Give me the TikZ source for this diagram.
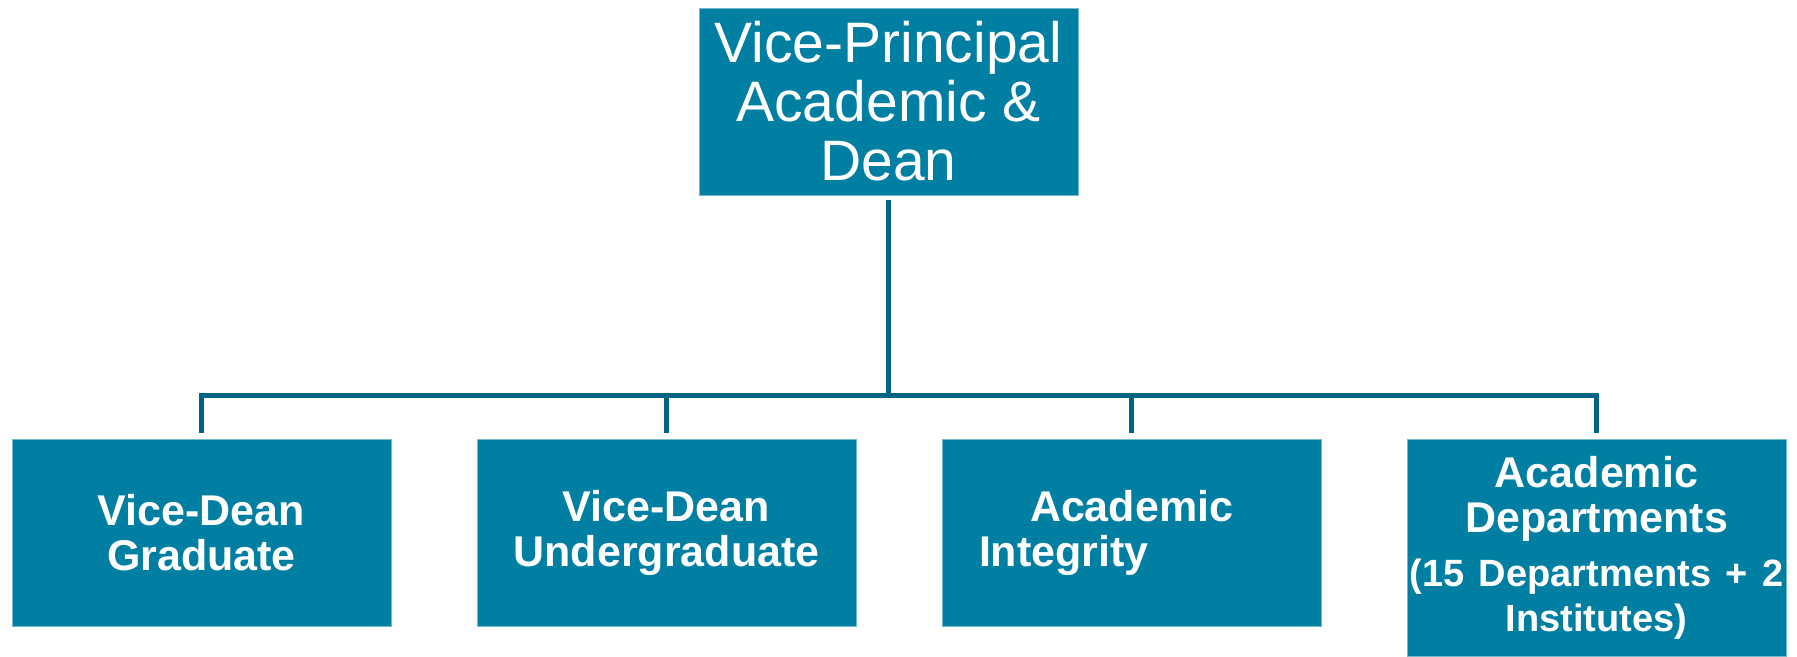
\documentclass[tikz,border=0pt]{standalone}
\usepackage{fontspec}
\setmainfont{Liberation Sans}
\usepackage{xcolor}
\usepackage{tikz}

\definecolor{boxteal}{RGB}{0,127,163}
\definecolor{lineteal}{RGB}{0,101,133}

\tikzset{
	box/.style={fill=boxteal, draw=boxteal!55!white, line width=0.4pt, text=white, inner sep=0pt, minimum width=189.5pt, minimum height=93.5pt, align=center},
	head/.style={box, font=\fontsize{28.5}{29.5}\selectfont},
	unit/.style={box, font=\bfseries\fontsize{21.5}{22.5}\selectfont},
	link/.style={draw=lineteal, line width=2.5pt}
}

\begin{document}
\begin{tikzpicture}[x=0.5pt,y=-0.5pt]

\fill[white] (0,0) rectangle (1797,656);

\node[head] (vp) at (888.5,101.5) {Vice-Principal\\Academic \&\\Dean};

\node[unit] (grad) at (201.5,532.5) {Vice-Dean\\Graduate};
\node[unit] (ugrad) at (666.5,532.5) {Vice-Dean\\Undergraduate};
\node[unit, text width=152.5pt, align=left] (integ) at (1131.5,532.5) {\hspace*{25.5pt}Academic\\Integrity};
\node[unit, text width=189.5pt, minimum height=108.5pt] (dept) at (1596.5,547.5)
	{Academic\\Departments\\[7pt]\fontsize{19}{20}\selectfont (15 Departments + 2\\Institutes)};

\coordinate (bus) at (888.5,395.5);

\draw[link, shorten <=2.5pt] (vp.south) -- (bus);
\foreach \c in {grad,ugrad,integ,dept}{
	\draw[link, shorten >=3pt] (bus) -| (\c.north);
}

\end{tikzpicture}
\end{document}
